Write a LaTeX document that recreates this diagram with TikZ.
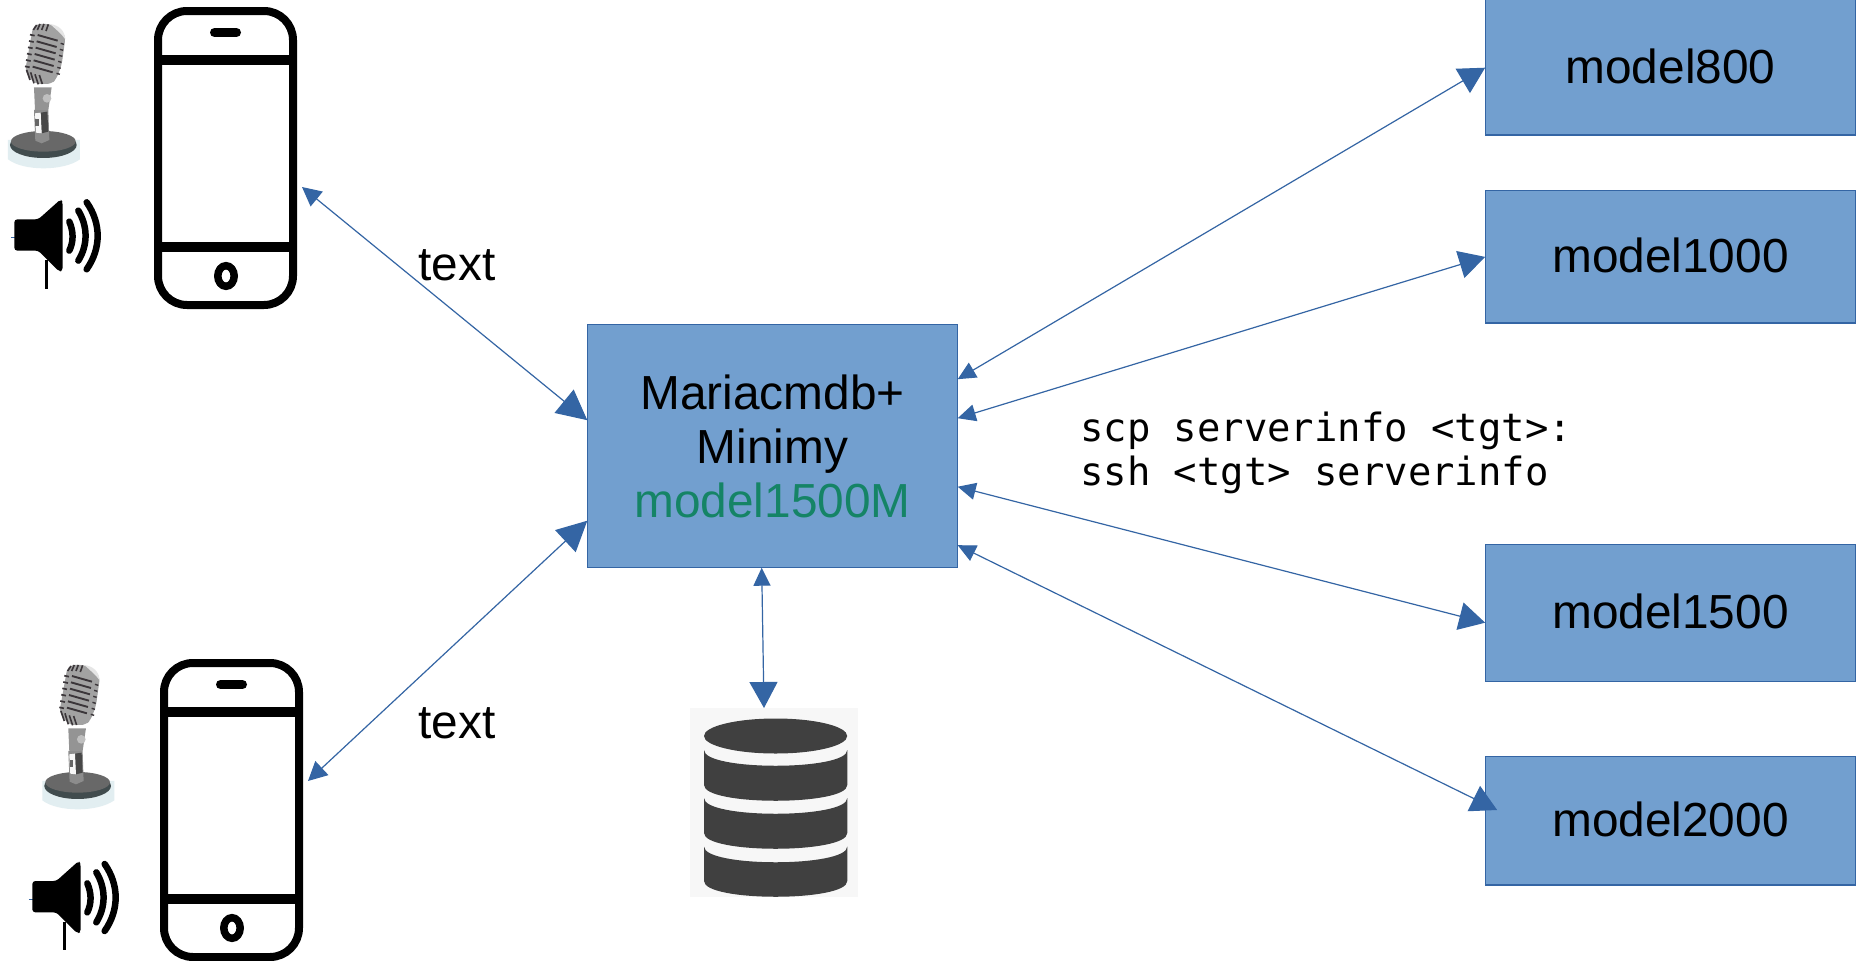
\documentclass[tikz,border=0pt]{standalone}
\usepackage{fontspec}
\setmainfont{Liberation Sans}
\newfontfamily\monofam{DejaVu Sans Mono}
\usetikzlibrary{arrows.meta}
\definecolor{boxfill}{HTML}{729FCF}
\definecolor{lineblue}{HTML}{3465A4}
\definecolor{textgreen}{HTML}{158466}
\definecolor{micpale}{HTML}{E2EEF1}
\definecolor{micrim}{HTML}{414C4E}
\definecolor{mictop}{HTML}{686868}
\definecolor{micbody}{HTML}{A2A2A2}
\definecolor{micrib}{HTML}{3B363A}
\newcommand{\dbseg}[2]{%
  \fill[dbdark] (704,#1) .. controls (704,#1+21) and (847.3,#1+21) .. (847.3,#1) -- (847.3,#2)
    .. controls (847.3,#2+21) and (704,#2+21) .. (704,#2) -- cycle;}
\tikzset{
  x=1pt,y=-1pt,
  bluebox/.style={draw=lineblue,line width=1.2pt,fill=boxfill,inner sep=0pt,outer sep=0pt,font=\fontsize{47.8}{54}\selectfont,align=center},
  modelbox/.style={bluebox,minimum width=370.7pt,text depth=2.6pt},
  plainlabel/.style={font=\fontsize{47.8}{54}\selectfont,inner sep=0pt},
  monolabel/.style={font=\monofam\fontsize{38.9}{44}\selectfont,inner sep=0pt,align=left},
  conn/.style={draw=lineblue,line width=1.2pt},
  smalltip/.tip={Triangle[length=18pt,width=17pt]},
  midtip/.tip={Triangle[length=19pt,width=19pt]},
  largetip/.tip={Triangle[length=26pt,width=28pt]},
  hugetip/.tip={Triangle[length=30pt,width=30pt]},
  phonebody/.style={draw=black,line width=8pt,rounded corners=29pt,minimum width=135pt,minimum height=294pt,inner sep=0pt},
  dbdark/.style={fill=black!75},
  tracepic/.style={x=0.3333pt,y=-0.3333pt},
  phonedetail/.pic={
    \draw[black,line width=9.5pt] (-67.5,-98)--(67.5,-98);
    \draw[black,line width=9.5pt] (-67.5,89)--(67.5,89);
    \draw[black,line width=9pt,line cap=round] (-11,-125.5)--(11,-125.5);
    \draw[black,line width=7.5pt] (0.5,118) ellipse [x radius=8.2,y radius=10.3];
  },
  micicon/.pic={
    \begin{scope}[tracepic]
    \fill[micpale] (24,420) -- (24,478) .. controls (70,514) and (190,514) .. (240,478) -- (240,420) -- cycle;
    \fill[micrim] (130,435) ellipse [x radius=100,y radius=39];
    \fill[mictop] (130,424) ellipse [x radius=97,y radius=31];
    \fill[black!45] (102,330) -- (145,330) -- (148,420) -- (125,430) -- (106,422) -- cycle;
    \fill[black!72] (122,338) -- (142,335) -- (145,395) -- (125,400) -- cycle;
    \fill[black!3] (105,340) -- (122,338) -- (125,400) -- (108,398) -- cycle;
    \fill[black!60] (106,358) rectangle (117,378);
    \fill[black!42] (102,262) -- (155,262) -- (145,330) -- (105,330) -- cycle;
    \fill[black!25] (141,295) circle [radius=13];
    \fill[micbody,rounded corners=5pt] (100,75) -- (135,70) -- (175,80) -- (197,108) -- (185,195) -- (170,235) -- (155,252) -- (105,252) -- (75,215) -- cycle;
    \fill[black!10] (150,72) .. controls (178,76) and (194,92) .. (196,118) .. controls (185,102) and (168,88) .. (150,72) -- cycle;
    \foreach \i in {0,...,5}{
      \draw[micrib,line width=1.9pt] (113-3*\i,105+19*\i) -- (173-3*\i,122+19*\i);
      \draw[micrib,line width=1.7pt] (90-3*\i,104+19*\i) -- (104-3*\i,107+19*\i);
      \draw[micrib,line width=1.4pt] (182-2.5*\i,130+18*\i) -- (192-2.5*\i,133+18*\i);
    }
    \draw[micrib,line width=1.6pt] (100,90) -- (110,75);
    \draw[micrib,line width=1.6pt] (112,90) -- (120,72);
    \draw[micrib,line width=1.6pt] (125,90) -- (132,72);
    \draw[micrib,line width=1.6pt] (138,93) -- (145,73);
    \draw[micrib,line width=1.6pt] (80,210) -- (90,240);
    \draw[micrib,line width=1.6pt] (92,217) -- (102,250);
    \draw[micrib,line width=1.6pt] (105,223) -- (115,253);
    \draw[micrib,line width=1.6pt] (118,225) -- (127,252);
    \end{scope}
  },
  speakericon/.pic={
    \begin{scope}[tracepic]
    \draw[lineblue,line width=1pt] (33,712) -- (55,712);
    \fill[black,rounded corners=3pt] (43,658) -- (115,658) -- (182,598) -- (188,606) -- (188,812) -- (178,815) -- (115,752) -- (43,752) -- cycle;
    \draw[black,line width=3pt] (140,780) -- (140,866);
    \draw[black,line width=6.5pt,line cap=round] (208,665) .. controls (221,695) and (221,725) .. (208,752);
    \draw[black,line width=6.5pt,line cap=round] (235,632) .. controls (264,680) and (264,735) .. (235,782);
    \draw[black,line width=6.5pt,line cap=round] (260,607) .. controls (304,670) and (304,745) .. (260,808);
    \end{scope}
  },
}
\begin{document}
\begin{tikzpicture}
\useasboundingbox (0,0) rectangle (1866,961);
\clip (0,0) rectangle (1866,961);
\fill[white] (0,0) rectangle (1866,961);

% server boxes
\node[bluebox,minimum width=370.4pt,minimum height=243pt] (hub) at (772.5,446.2)
  {Mariacmdb+\\Minimy\\\textcolor{textgreen}{model1500M}};
\node[modelbox,minimum height=136pt] (mA) at (1670.5,67) {model800};
\node[modelbox,minimum height=132.3pt] (mB) at (1670.5,256.9) {model1000};
\node[modelbox,minimum height=137pt] (mC) at (1670.5,612.8) {model1500};
\node[modelbox,minimum height=128.3pt] (mD) at (1670.5,820.8) {model2000};

% phones
\node[phonebody] (phoneA) at (225.5,158) {};
\pic at (225.5,158) {phonedetail};
\node[phonebody] (phoneB) at (231.5,810) {};
\pic at (231.5,810) {phonedetail};

% microphones and speakers
\pic at (0,0) {micicon};
\pic at (34.3,641) {micicon};
\pic at (0,0) {speakericon};
\pic at (18,661.7) {speakericon};

% database
\node[fill=black!3,minimum width=168pt,minimum height=189pt,inner sep=0pt,outer sep=0pt] (db) at (774,802.5) {};
\dbseg{750}{785}
\dbseg{798}{833}
\dbseg{846.5}{881}
\fill[dbdark] (775.6,736) ellipse [x radius=71.6,y radius=17.5];

% connectors
\draw[conn,midtip-hugetip] ([xshift=5pt,yshift=-29pt]phoneA.east) -- ([yshift=26pt]hub.west);
\draw[conn,midtip-hugetip] ([xshift=5pt,yshift=29pt]phoneB.east) -- ([yshift=-74.5pt]hub.west);
\draw[conn,smalltip-largetip] ([xshift=-10.8pt]hub.south) -- ([xshift=-10pt]db.north);
\draw[conn,smalltip-largetip] ([yshift=67pt]hub.east) -- ([yshift=-0.7pt]mA.west);
\draw[conn,smalltip-largetip] ([yshift=28pt]hub.east) -- (mB.west);
\draw[conn,smalltip-largetip] ([yshift=-40.5pt]hub.east) -- ([yshift=-9.9pt]mC.west);
\draw[conn,smalltip-largetip] ([yshift=-99pt]hub.east) -- ([xshift=12pt,yshift=10.8pt]mD.west);

% labels
\node[plainlabel] (textA) at (457,265) {text};
\node[plainlabel] (textB) at (457,723) {text};
\node[monolabel,anchor=base west] (cmd) at (1080,485.7) {scp serverinfo <tgt>:\\ssh <tgt> serverinfo};
\end{tikzpicture}
\end{document}
